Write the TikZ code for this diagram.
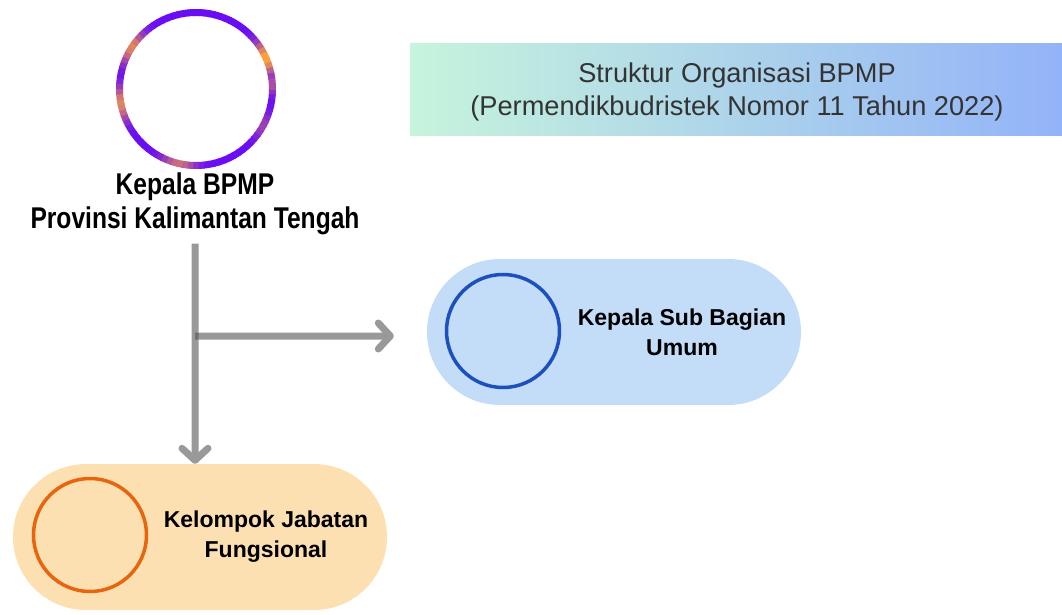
\documentclass[tikz,border=0pt]{standalone}
\usepackage{fontspec}
\setmainfont{Liberation Sans}
\newfontfamily\narrowbold[FakeStretch=0.82]{Liberation Sans Bold}
\usetikzlibrary{arrows.meta,shapes.misc}
\definecolor{ringv}{HTML}{6A0DF5}
\definecolor{ringo}{HTML}{FFA53A}
\definecolor{gradL}{HTML}{C6F4DC}
\definecolor{gradR}{HTML}{93B3F8}
\definecolor{pillblue}{HTML}{C3DCF8}
\definecolor{circblue}{HTML}{1E4FBF}
\definecolor{pillpeach}{HTML}{FDE0B2}
\definecolor{circorange}{HTML}{E8650F}
\definecolor{titletext}{HTML}{333333}
\definecolor{conngray}{HTML}{555555}
\tikzset{
  pill/.style={rounded rectangle, minimum width=374pt, minimum height=146pt, inner sep=0pt, draw=none},
  ringnode/.style={circle, minimum size=113pt, inner sep=0pt, line width=3.5pt},
  pilltext/.style={align=center, font=\bfseries\fontsize{23}{30}\selectfont, text=black},
  conn/.style={draw=conngray, line width=7pt, -{Straight Barb[length=12pt,width=26pt,round]}},
}
\newcommand\bump[3]{#3*exp(-((abs(mod(\a-#1+540,360)-180))/#2)^2)}
\begin{document}
\begin{tikzpicture}[x=1pt,y=-1pt]
\useasboundingbox (0,0) rectangle (1062,615);
% gradient ring
\foreach \a in {0,4,...,356} {
  \pgfmathtruncatemacro\p{100*max(\bump{334}{13}{1}, \bump{211}{13}{0.8}, \bump{167}{13}{0.8}, \bump{101}{13}{0.65}, \bump{27}{10}{0.35}, \bump{354}{8}{0.45})}
  \draw[line width=7pt, draw=ringo!\p!ringv] (196,89) ++(\a:76.5) arc[start angle=\a, end angle=\a+4.8, radius=76.5];
}
\node[align=center, font=\narrowbold\fontsize{30}{34}\selectfont] (kepala) at (195,204) {Kepala BPMP\\Provinsi Kalimantan Tengah};
% title box
\node[rectangle, minimum width=652pt, minimum height=91pt, inner sep=0pt, left color=gradL, right color=gradR] (title) at (736,89.5) {};
\node[align=center, text=titletext, font=\fontsize{27.2}{33}\selectfont] (titletxt) at (737,92) {Struktur Organisasi BPMP\\(Permendikbudristek Nomor 11 Tahun 2022)};
% pills
\node[pill, fill=pillblue] (ksb) at (614,332) {};
\node[ringnode, draw=circblue] (ksbc) at (503,331) {};
\node[pilltext] (ksbt) at (682,332) {Kepala Sub Bagian\\Umum};
\node[pill, fill=pillpeach] (kjf) at (200,537) {};
\node[ringnode, draw=circorange] (kjfc) at (90,535) {};
\node[pilltext] (kjft) at (266,537) {Kelompok Jabatan\\Fungsional};
% connectors
\coordinate (j) at (195,336);
\begin{scope}[transparency group, opacity=0.6]
\draw[conn] ([yshift=-5pt]kepala.south) -- (kepala.south |- kjf.north);
\end{scope}
\begin{scope}[transparency group, opacity=0.6]
\draw[conn, shorten >=33pt] (j) -- (j -| ksb.west);
\end{scope}
\end{tikzpicture}
\end{document}
